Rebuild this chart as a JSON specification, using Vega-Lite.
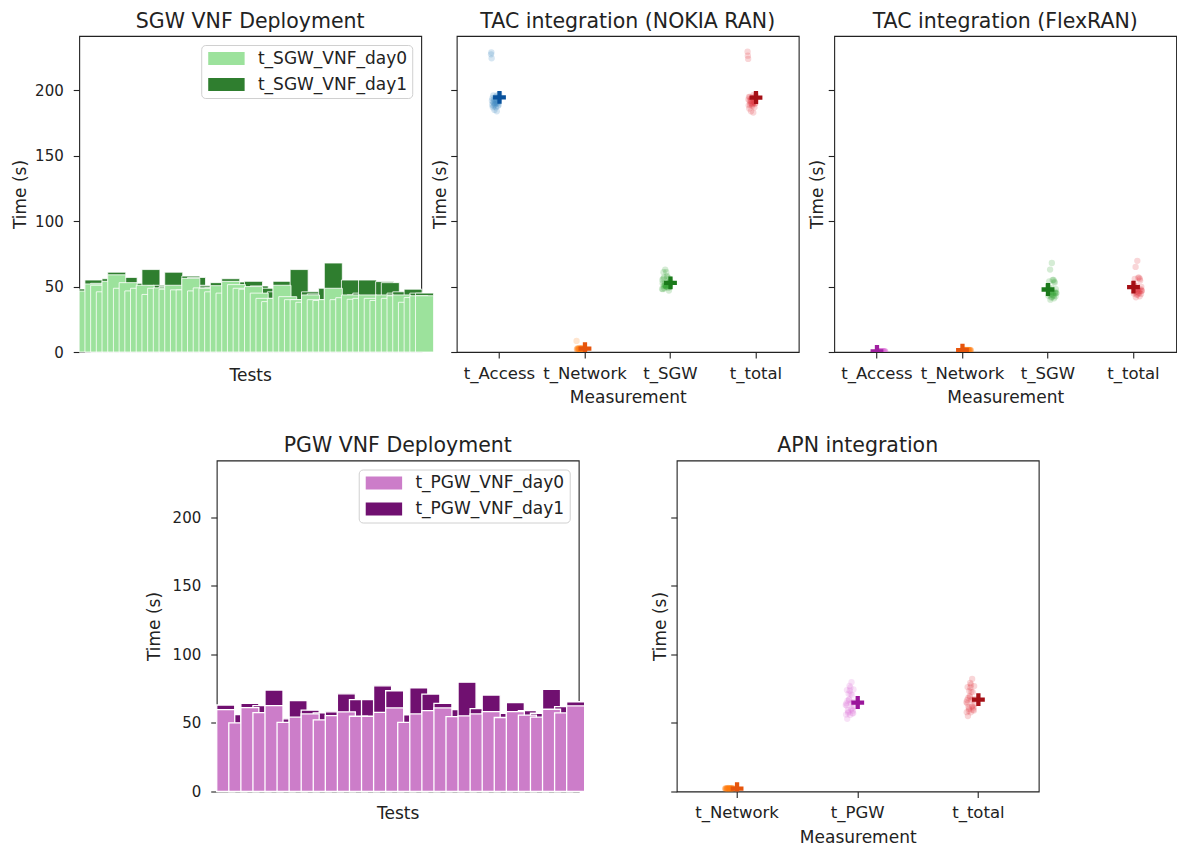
{
  "$schema": "https://vega.github.io/schema/vega-lite/v6.json",
  "padding": {"left": 11, "top": 10, "right": 0, "bottom": 0},
  "background": "white",
  "config": {
    "font": "DejaVu Sans",
    "view": {"stroke": "#222", "strokeWidth": 1.1},
    "axis": {"domain": false, "grid": false, "tickColor": "#222", "tickWidth": 1.1, "tickSize": 6, "labelColor": "#222", "titleColor": "#222", "labelFontSize": 15, "titleFontSize": 17, "titleFontWeight": "normal", "labelFont": "DejaVu Sans", "titleFont": "DejaVu Sans", "labelPadding": 5},
    "title": {"fontSize": 20.5, "fontWeight": "normal", "color": "#222", "offset": 4, "font": "DejaVu Sans"},
    "legend": {"title": null, "orient": "top-right", "offset": 9, "fillColor": "white", "strokeColor": "#d0d0d0", "cornerRadius": 4, "padding": 5, "labelFontSize": 17, "labelColor": "#222", "labelFont": "DejaVu Sans", "symbolType": "M-2.8,-1H2.8V1H-2.8Z", "symbolSize": 169, "symbolStrokeWidth": 0, "symbolOffset": 11.7, "labelOffset": 23, "rowPadding": 8}
  },
  "datasets": {
    "sgw": [
      {"test": 1, "t_SGW_VNF_day0": 46.6, "total": 48.2},
      {"test": 2, "t_SGW_VNF_day0": 52.0, "total": 55.0},
      {"test": 3, "t_SGW_VNF_day0": 51.0, "total": 52.5},
      {"test": 4, "t_SGW_VNF_day0": 46.0, "total": 48.0},
      {"test": 5, "t_SGW_VNF_day0": 54.0, "total": 56.0},
      {"test": 6, "t_SGW_VNF_day0": 59.0, "total": 61.0},
      {"test": 7, "t_SGW_VNF_day0": 48.7, "total": 50.5},
      {"test": 8, "t_SGW_VNF_day0": 53.0, "total": 57.0},
      {"test": 9, "t_SGW_VNF_day0": 46.7, "total": 48.7},
      {"test": 10, "t_SGW_VNF_day0": 48.7, "total": 51.0},
      {"test": 11, "t_SGW_VNF_day0": 51.0, "total": 52.5},
      {"test": 12, "t_SGW_VNF_day0": 44.0, "total": 63.0},
      {"test": 13, "t_SGW_VNF_day0": 48.7, "total": 50.7},
      {"test": 14, "t_SGW_VNF_day0": 49.0, "total": 51.0},
      {"test": 15, "t_SGW_VNF_day0": 48.0, "total": 50.0},
      {"test": 16, "t_SGW_VNF_day0": 51.0, "total": 61.0},
      {"test": 17, "t_SGW_VNF_day0": 47.5, "total": 50.0},
      {"test": 18, "t_SGW_VNF_day0": 47.5, "total": 50.0},
      {"test": 19, "t_SGW_VNF_day0": 56.3, "total": 58.0},
      {"test": 20, "t_SGW_VNF_day0": 46.7, "total": 57.0},
      {"test": 21, "t_SGW_VNF_day0": 49.0, "total": 51.0},
      {"test": 22, "t_SGW_VNF_day0": 48.7, "total": 50.5},
      {"test": 23, "t_SGW_VNF_day0": 46.0, "total": 49.0},
      {"test": 24, "t_SGW_VNF_day0": 50.7, "total": 53.0},
      {"test": 25, "t_SGW_VNF_day0": 45.0, "total": 47.0},
      {"test": 26, "t_SGW_VNF_day0": 54.0, "total": 56.0},
      {"test": 27, "t_SGW_VNF_day0": 51.5, "total": 53.5},
      {"test": 28, "t_SGW_VNF_day0": 48.7, "total": 51.0},
      {"test": 29, "t_SGW_VNF_day0": 48.0, "total": 50.0},
      {"test": 30, "t_SGW_VNF_day0": 50.0, "total": 54.0},
      {"test": 31, "t_SGW_VNF_day0": 45.0, "total": 50.5},
      {"test": 32, "t_SGW_VNF_day0": 41.0, "total": 43.0},
      {"test": 33, "t_SGW_VNF_day0": 38.5, "total": 48.7},
      {"test": 34, "t_SGW_VNF_day0": 41.0, "total": 46.0},
      {"test": 35, "t_SGW_VNF_day0": 51.0, "total": 54.0},
      {"test": 36, "t_SGW_VNF_day0": 42.3, "total": 44.0},
      {"test": 37, "t_SGW_VNF_day0": 40.0, "total": 46.0},
      {"test": 38, "t_SGW_VNF_day0": 40.0, "total": 63.0},
      {"test": 39, "t_SGW_VNF_day0": 38.0, "total": 40.0},
      {"test": 40, "t_SGW_VNF_day0": 43.6, "total": 46.0},
      {"test": 41, "t_SGW_VNF_day0": 40.0, "total": 44.4},
      {"test": 42, "t_SGW_VNF_day0": 39.4, "total": 41.6},
      {"test": 43, "t_SGW_VNF_day0": 40.0, "total": 48.7},
      {"test": 44, "t_SGW_VNF_day0": 48.7, "total": 68.0},
      {"test": 45, "t_SGW_VNF_day0": 40.0, "total": 42.0},
      {"test": 46, "t_SGW_VNF_day0": 41.5, "total": 46.0},
      {"test": 47, "t_SGW_VNF_day0": 43.6, "total": 55.0},
      {"test": 48, "t_SGW_VNF_day0": 40.3, "total": 43.6},
      {"test": 49, "t_SGW_VNF_day0": 41.0, "total": 45.0},
      {"test": 50, "t_SGW_VNF_day0": 43.6, "total": 55.0},
      {"test": 51, "t_SGW_VNF_day0": 41.0, "total": 43.0},
      {"test": 52, "t_SGW_VNF_day0": 39.4, "total": 41.0},
      {"test": 53, "t_SGW_VNF_day0": 43.6, "total": 53.8},
      {"test": 54, "t_SGW_VNF_day0": 41.0, "total": 53.0},
      {"test": 55, "t_SGW_VNF_day0": 43.0, "total": 45.0},
      {"test": 56, "t_SGW_VNF_day0": 43.6, "total": 46.0},
      {"test": 57, "t_SGW_VNF_day0": 38.0, "total": 42.6},
      {"test": 58, "t_SGW_VNF_day0": 41.6, "total": 48.0},
      {"test": 59, "t_SGW_VNF_day0": 43.0, "total": 45.0},
      {"test": 60, "t_SGW_VNF_day0": 43.0, "total": 45.0}
    ],
    "nokia": [
      {"test": 1, "t_Access": 227.5, "t_Network": 8.5, "t_SGW": 48.2, "t_total": 229.5},
      {"test": 2, "t_Access": 229.0, "t_Network": 2.1, "t_SGW": 55.0, "t_total": 226.5},
      {"test": 3, "t_Access": 224.5, "t_Network": 1.8, "t_SGW": 52.5, "t_total": 224.0},
      {"test": 4, "t_Access": 192.0, "t_Network": 2.5, "t_SGW": 48.0, "t_total": 193.0},
      {"test": 5, "t_Access": 189.0, "t_Network": 3.0, "t_SGW": 56.0, "t_total": 188.5},
      {"test": 6, "t_Access": 194.0, "t_Network": 1.6, "t_SGW": 61.0, "t_total": 195.0},
      {"test": 7, "t_Access": 187.0, "t_Network": 2.2, "t_SGW": 50.5, "t_total": 186.0},
      {"test": 8, "t_Access": 191.0, "t_Network": 2.8, "t_SGW": 57.0, "t_total": 192.0},
      {"test": 9, "t_Access": 196.0, "t_Network": 1.9, "t_SGW": 48.7, "t_total": 195.0},
      {"test": 10, "t_Access": 188.0, "t_Network": 2.4, "t_SGW": 51.0, "t_total": 189.0},
      {"test": 11, "t_Access": 190.0, "t_Network": 3.2, "t_SGW": 52.5, "t_total": 190.5},
      {"test": 12, "t_Access": 193.0, "t_Network": 2.0, "t_SGW": 63.0, "t_total": 192.0},
      {"test": 13, "t_Access": 185.0, "t_Network": 1.7, "t_SGW": 50.7, "t_total": 184.0},
      {"test": 14, "t_Access": 192.0, "t_Network": 2.6, "t_SGW": 51.0, "t_total": 193.0},
      {"test": 15, "t_Access": 189.0, "t_Network": 2.3, "t_SGW": 50.0, "t_total": 190.0},
      {"test": 16, "t_Access": 195.0, "t_Network": 1.5, "t_SGW": 61.0, "t_total": 194.0},
      {"test": 17, "t_Access": 190.0, "t_Network": 2.9, "t_SGW": 50.0, "t_total": 189.0},
      {"test": 18, "t_Access": 187.0, "t_Network": 2.1, "t_SGW": 50.0, "t_total": 188.0},
      {"test": 19, "t_Access": 193.0, "t_Network": 2.7, "t_SGW": 58.0, "t_total": 194.0},
      {"test": 20, "t_Access": 191.0, "t_Network": 1.8, "t_SGW": 57.0, "t_total": 190.0},
      {"test": 21, "t_Access": 184.0, "t_Network": 3.1, "t_SGW": 51.0, "t_total": 183.0},
      {"test": 22, "t_Access": 196.0, "t_Network": 2.2, "t_SGW": 50.5, "t_total": 196.5},
      {"test": 23, "t_Access": 190.0, "t_Network": 2.0, "t_SGW": 49.0, "t_total": 191.0},
      {"test": 24, "t_Access": 192.0, "t_Network": 2.5, "t_SGW": 53.0, "t_total": 191.0},
      {"test": 25, "t_Access": 188.0, "t_Network": 1.9, "t_SGW": 47.0, "t_total": 187.0},
      {"test": 26, "t_Access": 194.0, "t_Network": 2.4, "t_SGW": 56.0, "t_total": 195.0},
      {"test": 27, "t_Access": 191.0, "t_Network": 2.8, "t_SGW": 53.5, "t_total": 190.0},
      {"test": 28, "t_Access": 189.0, "t_Network": 1.6, "t_SGW": 51.0, "t_total": 190.0},
      {"test": 29, "t_Access": 193.0, "t_Network": 2.3, "t_SGW": 50.0, "t_total": 192.0},
      {"test": 30, "t_Access": 197.0, "t_Network": 2.6, "t_SGW": 54.0, "t_total": 196.0}
    ],
    "flex": [
      {"test": 31, "t_Access": 0.4, "t_Network": 1.4, "t_SGW": 50.5, "t_total": 52.3},
      {"test": 32, "t_Access": 0.5, "t_Network": 1.2, "t_SGW": 43.0, "t_total": 44.7},
      {"test": 33, "t_Access": 0.3, "t_Network": 1.6, "t_SGW": 48.7, "t_total": 50.6},
      {"test": 34, "t_Access": 0.6, "t_Network": 1.3, "t_SGW": 46.0, "t_total": 47.9},
      {"test": 35, "t_Access": 0.4, "t_Network": 1.5, "t_SGW": 54.0, "t_total": 55.9},
      {"test": 36, "t_Access": 0.5, "t_Network": 1.1, "t_SGW": 44.0, "t_total": 45.6},
      {"test": 37, "t_Access": 0.4, "t_Network": 1.4, "t_SGW": 46.0, "t_total": 47.8},
      {"test": 38, "t_Access": 0.3, "t_Network": 1.7, "t_SGW": 63.0, "t_total": 65.0},
      {"test": 39, "t_Access": 0.5, "t_Network": 1.3, "t_SGW": 40.0, "t_total": 41.8},
      {"test": 40, "t_Access": 0.6, "t_Network": 1.5, "t_SGW": 46.0, "t_total": 48.1},
      {"test": 41, "t_Access": 0.4, "t_Network": 1.2, "t_SGW": 44.4, "t_total": 46.0},
      {"test": 42, "t_Access": 0.5, "t_Network": 1.6, "t_SGW": 41.6, "t_total": 43.7},
      {"test": 43, "t_Access": 0.3, "t_Network": 1.4, "t_SGW": 48.7, "t_total": 50.4},
      {"test": 44, "t_Access": 0.4, "t_Network": 1.3, "t_SGW": 68.0, "t_total": 69.7},
      {"test": 45, "t_Access": 0.6, "t_Network": 1.5, "t_SGW": 42.0, "t_total": 44.1},
      {"test": 46, "t_Access": 0.5, "t_Network": 1.2, "t_SGW": 46.0, "t_total": 48.0},
      {"test": 47, "t_Access": 0.4, "t_Network": 1.4, "t_SGW": 55.0, "t_total": 56.8},
      {"test": 48, "t_Access": 0.3, "t_Network": 1.6, "t_SGW": 43.6, "t_total": 45.5},
      {"test": 49, "t_Access": 0.5, "t_Network": 1.3, "t_SGW": 45.0, "t_total": 46.8},
      {"test": 50, "t_Access": 0.4, "t_Network": 1.5, "t_SGW": 55.0, "t_total": 56.9},
      {"test": 51, "t_Access": 0.6, "t_Network": 1.4, "t_SGW": 43.0, "t_total": 45.0},
      {"test": 52, "t_Access": 0.4, "t_Network": 1.2, "t_SGW": 41.0, "t_total": 42.6},
      {"test": 53, "t_Access": 0.5, "t_Network": 1.6, "t_SGW": 53.8, "t_total": 55.9},
      {"test": 54, "t_Access": 0.3, "t_Network": 1.3, "t_SGW": 53.0, "t_total": 54.6},
      {"test": 55, "t_Access": 0.4, "t_Network": 1.4, "t_SGW": 45.0, "t_total": 46.8},
      {"test": 56, "t_Access": 0.5, "t_Network": 1.5, "t_SGW": 46.0, "t_total": 48.0},
      {"test": 57, "t_Access": 0.6, "t_Network": 1.2, "t_SGW": 42.6, "t_total": 44.4},
      {"test": 58, "t_Access": 0.4, "t_Network": 1.4, "t_SGW": 48.0, "t_total": 49.8},
      {"test": 59, "t_Access": 0.3, "t_Network": 1.6, "t_SGW": 45.0, "t_total": 46.9},
      {"test": 60, "t_Access": 0.5, "t_Network": 1.3, "t_SGW": 45.0, "t_total": 46.8}
    ],
    "pgw": [
      {"test": 1, "t_PGW_VNF_day0": 59.8, "total": 63.1},
      {"test": 2, "t_PGW_VNF_day0": 50.1, "total": 56.1},
      {"test": 3, "t_PGW_VNF_day0": 61.2, "total": 64.3},
      {"test": 4, "t_PGW_VNF_day0": 57.6, "total": 62.7},
      {"test": 5, "t_PGW_VNF_day0": 62.7, "total": 74.0},
      {"test": 6, "t_PGW_VNF_day0": 50.4, "total": 53.0},
      {"test": 7, "t_PGW_VNF_day0": 54.2, "total": 66.3},
      {"test": 8, "t_PGW_VNF_day0": 56.6, "total": 59.3},
      {"test": 9, "t_PGW_VNF_day0": 52.3, "total": 57.3},
      {"test": 10, "t_PGW_VNF_day0": 55.4, "total": 58.1},
      {"test": 11, "t_PGW_VNF_day0": 58.1, "total": 71.3},
      {"test": 12, "t_PGW_VNF_day0": 54.9, "total": 67.0},
      {"test": 13, "t_PGW_VNF_day0": 54.9, "total": 67.0},
      {"test": 14, "t_PGW_VNF_day0": 57.8, "total": 77.1},
      {"test": 15, "t_PGW_VNF_day0": 61.0, "total": 73.5},
      {"test": 16, "t_PGW_VNF_day0": 50.4, "total": 55.9},
      {"test": 17, "t_PGW_VNF_day0": 56.6, "total": 75.7},
      {"test": 18, "t_PGW_VNF_day0": 59.0, "total": 71.1},
      {"test": 19, "t_PGW_VNF_day0": 61.0, "total": 64.3},
      {"test": 20, "t_PGW_VNF_day0": 54.7, "total": 59.8},
      {"test": 21, "t_PGW_VNF_day0": 55.2, "total": 79.8},
      {"test": 22, "t_PGW_VNF_day0": 56.6, "total": 60.5},
      {"test": 23, "t_PGW_VNF_day0": 58.3, "total": 70.4},
      {"test": 24, "t_PGW_VNF_day0": 54.0, "total": 57.1},
      {"test": 25, "t_PGW_VNF_day0": 58.3, "total": 64.8},
      {"test": 26, "t_PGW_VNF_day0": 55.7, "total": 59.0},
      {"test": 27, "t_PGW_VNF_day0": 54.2, "total": 57.1},
      {"test": 28, "t_PGW_VNF_day0": 60.0, "total": 74.5},
      {"test": 29, "t_PGW_VNF_day0": 57.3, "total": 61.9},
      {"test": 30, "t_PGW_VNF_day0": 62.4, "total": 65.5}
    ],
    "apn": [
      {"test": 1, "t_Network": 2.1, "t_PGW": 63.1, "t_total": 65.2},
      {"test": 2, "t_Network": 1.8, "t_PGW": 56.1, "t_total": 57.9},
      {"test": 3, "t_Network": 2.4, "t_PGW": 64.3, "t_total": 66.7},
      {"test": 4, "t_Network": 1.6, "t_PGW": 62.7, "t_total": 64.3},
      {"test": 5, "t_Network": 2.2, "t_PGW": 74.0, "t_total": 76.2},
      {"test": 6, "t_Network": 2.0, "t_PGW": 53.0, "t_total": 55.0},
      {"test": 7, "t_Network": 1.9, "t_PGW": 66.3, "t_total": 68.2},
      {"test": 8, "t_Network": 2.5, "t_PGW": 59.3, "t_total": 61.8},
      {"test": 9, "t_Network": 1.7, "t_PGW": 57.3, "t_total": 59.0},
      {"test": 10, "t_Network": 2.3, "t_PGW": 58.1, "t_total": 60.4},
      {"test": 11, "t_Network": 2.0, "t_PGW": 71.3, "t_total": 73.3},
      {"test": 12, "t_Network": 2.6, "t_PGW": 67.0, "t_total": 69.6},
      {"test": 13, "t_Network": 1.8, "t_PGW": 67.0, "t_total": 68.8},
      {"test": 14, "t_Network": 2.1, "t_PGW": 77.1, "t_total": 79.2},
      {"test": 15, "t_Network": 2.4, "t_PGW": 73.5, "t_total": 75.9},
      {"test": 16, "t_Network": 1.9, "t_PGW": 55.9, "t_total": 57.8},
      {"test": 17, "t_Network": 2.2, "t_PGW": 75.7, "t_total": 77.9},
      {"test": 18, "t_Network": 1.7, "t_PGW": 71.1, "t_total": 72.8},
      {"test": 19, "t_Network": 2.5, "t_PGW": 64.3, "t_total": 66.8},
      {"test": 20, "t_Network": 2.0, "t_PGW": 59.8, "t_total": 61.8},
      {"test": 21, "t_Network": 2.3, "t_PGW": 79.8, "t_total": 82.1},
      {"test": 22, "t_Network": 1.8, "t_PGW": 60.5, "t_total": 62.3},
      {"test": 23, "t_Network": 2.1, "t_PGW": 70.4, "t_total": 72.5},
      {"test": 24, "t_Network": 2.6, "t_PGW": 57.1, "t_total": 59.7},
      {"test": 25, "t_Network": 1.9, "t_PGW": 64.8, "t_total": 66.7},
      {"test": 26, "t_Network": 2.2, "t_PGW": 59.0, "t_total": 61.2},
      {"test": 27, "t_Network": 2.0, "t_PGW": 57.1, "t_total": 59.1},
      {"test": 28, "t_Network": 2.4, "t_PGW": 74.5, "t_total": 76.9},
      {"test": 29, "t_Network": 1.7, "t_PGW": 61.9, "t_total": 63.6},
      {"test": 30, "t_Network": 2.1, "t_PGW": 65.5, "t_total": 67.6}
    ]
  },
  "vconcat": [
    {
      "hconcat": [
        {
          "title": "SGW VNF Deployment",
          "width": 342, "height": 316,
          "data": {"name": "sgw"},
          "encoding": {
            "x": {"field": "test", "type": "ordinal", "scale": {"paddingInner": 0, "paddingOuter": 0}, "axis": {"title": "Tests", "labels": false, "ticks": false, "titlePadding": 15}}
          },
          "layer": [
            {"mark": {"type": "bar", "stroke": "white", "strokeWidth": 0.8},
             "encoding": {
               "y": {"field": "total", "type": "quantitative", "scale": {"domain": [0, 241.5], "nice": false}, "axis": {"title": "Time (s)", "values": [0, 50, 100, 150, 200], "titlePadding": 5, "labelPadding": 10}},
               "color": {"datum": "t_SGW_VNF_day1", "scale": {"domain": ["t_SGW_VNF_day0", "t_SGW_VNF_day1"], "range": ["#9ce29c", "#2f7e2f"]}}
             }},
            {"mark": {"type": "bar", "stroke": "white", "strokeWidth": 0.8},
             "encoding": {
               "y": {"field": "t_SGW_VNF_day0", "type": "quantitative"},
               "color": {"datum": "t_SGW_VNF_day0"}
             }}
          ]
        },
        {
          "title": "TAC integration (NOKIA RAN)",
          "width": 342, "height": 316,
          "data": {"name": "nokia"},
          "transform": [{"fold": ["t_Access", "t_Network", "t_SGW", "t_total"], "as": ["m", "t"]}],
          "encoding": {
            "x": {"field": "m", "type": "nominal", "sort": ["t_Access", "t_Network", "t_SGW", "t_total"], "scale": {"paddingInner": 0.8, "paddingOuter": 0.4}, "axis": {"title": "Measurement", "labelAngle": 0, "titlePadding": 8, "labelPadding": 7, "labelFontSize": 16.5}},
            "y": {"field": "t", "type": "quantitative", "scale": {"domain": [0, 241.5], "nice": false}, "axis": {"title": "Time (s)", "labels": false, "values": [0, 50, 100, 150, 200], "titlePadding": 1}}
          },
          "layer": [
            {"mark": {"type": "circle", "size": 40, "opacity": 0.2, "clip": true},
             "encoding": {"xOffset": {"field": "test", "type": "nominal"}, "color": {"field": "m", "type": "nominal", "scale": {"domain": ["t_Access", "t_Network", "t_SGW", "t_total"], "range": ["#3182bd", "#ff7f0e", "#2ca02c", "#e0313b"]}, "legend": null}}},
            {"mark": {"type": "point", "shape": "M-0.333,-1H0.333V-0.333H1V0.333H0.333V1H-0.333V0.333H-1V-0.333H-0.333Z", "filled": true, "size": 165, "opacity": 1, "clip": true},
             "encoding": {"y": {"aggregate": "mean", "field": "t", "type": "quantitative"}, "fill": {"field": "m", "type": "nominal", "scale": {"domain": ["t_Access", "t_Network", "t_SGW", "t_total"], "range": ["#08519c", "#e6550d", "#1b7a1b", "#a50f15"]}, "legend": null}}}
          ]
        },
        {
          "title": "TAC integration (FlexRAN)",
          "width": 342, "height": 316,
          "data": {"name": "flex"},
          "transform": [{"fold": ["t_Access", "t_Network", "t_SGW", "t_total"], "as": ["m", "t"]}],
          "encoding": {
            "x": {"field": "m", "type": "nominal", "sort": ["t_Access", "t_Network", "t_SGW", "t_total"], "scale": {"paddingInner": 0.8, "paddingOuter": 0.4}, "axis": {"title": "Measurement", "labelAngle": 0, "titlePadding": 8, "labelPadding": 7, "labelFontSize": 16.5}},
            "y": {"field": "t", "type": "quantitative", "scale": {"domain": [0, 241.5], "nice": false}, "axis": {"title": "Time (s)", "labels": false, "values": [0, 50, 100, 150, 200], "titlePadding": 1}}
          },
          "layer": [
            {"mark": {"type": "circle", "size": 40, "opacity": 0.2, "clip": true},
             "encoding": {"xOffset": {"field": "test", "type": "nominal"}, "color": {"field": "m", "type": "nominal", "scale": {"domain": ["t_Access", "t_Network", "t_SGW", "t_total"], "range": ["#da70d6", "#ff7f0e", "#2ca02c", "#e0313b"]}, "legend": null}}},
            {"mark": {"type": "point", "shape": "M-0.333,-1H0.333V-0.333H1V0.333H0.333V1H-0.333V0.333H-1V-0.333H-0.333Z", "filled": true, "size": 165, "opacity": 1, "clip": true},
             "encoding": {"y": {"aggregate": "mean", "field": "t", "type": "quantitative"}, "fill": {"field": "m", "type": "nominal", "scale": {"domain": ["t_Access", "t_Network", "t_SGW", "t_total"], "range": ["#a020a0", "#e6550d", "#1b7a1b", "#a50f15"]}, "legend": null}}}
          ]
        }
      ],
      "spacing": 35.5,
      "bounds": "flush",
      "resolve": {"scale": {"color": "independent", "fill": "independent"}}
    },
    {
      "hconcat": [
        {
          "title": "PGW VNF Deployment",
          "width": 362, "height": 331,
          "data": {"name": "pgw"},
          "encoding": {
            "x": {"field": "test", "type": "ordinal", "scale": {"paddingInner": 0, "paddingOuter": 0}, "axis": {"title": "Tests", "labels": false, "ticks": false, "titlePadding": 14}}
          },
          "layer": [
            {"mark": {"type": "bar", "stroke": "white", "strokeWidth": 1.3},
             "encoding": {
               "y": {"field": "total", "type": "quantitative", "scale": {"domain": [0, 241.5], "nice": false}, "axis": {"title": "Time (s)", "values": [0, 50, 100, 150, 200], "titlePadding": 9, "labelPadding": 10}},
               "color": {"datum": "t_PGW_VNF_day1", "scale": {"domain": ["t_PGW_VNF_day0", "t_PGW_VNF_day1"], "range": ["#cc7dc9", "#701070"]}}
             }},
            {"mark": {"type": "bar", "stroke": "white", "strokeWidth": 1.3},
             "encoding": {
               "y": {"field": "t_PGW_VNF_day0", "type": "quantitative"},
               "color": {"datum": "t_PGW_VNF_day0"}
             }}
          ]
        },
        {
          "title": "APN integration",
          "width": 362, "height": 331,
          "data": {"name": "apn"},
          "transform": [{"fold": ["t_Network", "t_PGW", "t_total"], "as": ["m", "t"]}],
          "encoding": {
            "x": {"field": "m", "type": "nominal", "sort": ["t_Network", "t_PGW", "t_total"], "scale": {"paddingInner": 0.8, "paddingOuter": 0.4}, "axis": {"title": "Measurement", "labelAngle": 0, "titlePadding": 8, "labelPadding": 7, "labelFontSize": 16.5}},
            "y": {"field": "t", "type": "quantitative", "scale": {"domain": [0, 241.5], "nice": false}, "axis": {"title": "Time (s)", "labels": false, "values": [0, 50, 100, 150, 200], "titlePadding": 1}}
          },
          "layer": [
            {"mark": {"type": "circle", "size": 40, "opacity": 0.2, "clip": true},
             "encoding": {"xOffset": {"field": "test", "type": "nominal"}, "color": {"field": "m", "type": "nominal", "scale": {"domain": ["t_Network", "t_PGW", "t_total"], "range": ["#ff7f0e", "#da70d6", "#e0313b"]}, "legend": null}}},
            {"mark": {"type": "point", "shape": "M-0.333,-1H0.333V-0.333H1V0.333H0.333V1H-0.333V0.333H-1V-0.333H-0.333Z", "filled": true, "size": 165, "opacity": 1, "clip": true},
             "encoding": {"y": {"aggregate": "mean", "field": "t", "type": "quantitative"}, "fill": {"field": "m", "type": "nominal", "scale": {"domain": ["t_Network", "t_PGW", "t_total"], "range": ["#e6550d", "#9b169b", "#a50f15"]}, "legend": null}}}
          ]
        }
      ],
      "spacing": 98,
      "bounds": "flush",
      "resolve": {"scale": {"color": "independent", "fill": "independent"}}
    }
  ],
  "spacing": 27.5,
  "center": true,
  "resolve": {"scale": {"color": "independent", "fill": "independent"}}
}
